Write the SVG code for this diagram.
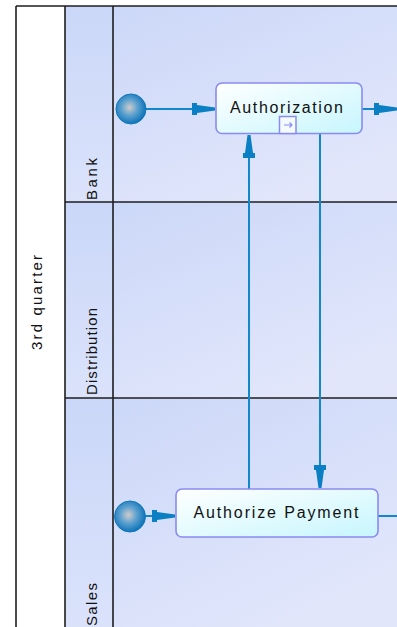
<svg xmlns="http://www.w3.org/2000/svg" width="397" height="627" viewBox="0 0 397 627">
  <defs>
    <linearGradient id="laneBg" x1="0" y1="0" x2="0.6" y2="1">
      <stop offset="0" stop-color="#ccd8f8"/>
      <stop offset="1" stop-color="#e1e6fb"/>
    </linearGradient>
    <linearGradient id="laneLbl" x1="0" y1="0" x2="0" y2="1">
      <stop offset="0" stop-color="#cad7f8"/>
      <stop offset="1" stop-color="#dbe3fb"/>
    </linearGradient>
    <linearGradient id="taskFill" x1="0" y1="0" x2="1" y2="1">
      <stop offset="0" stop-color="#ffffff"/>
      <stop offset="1" stop-color="#c6f6fd"/>
    </linearGradient>
    <radialGradient id="evtFill" cx="0.45" cy="0.45" r="0.55">
      <stop offset="0" stop-color="#d0cccc"/>
      <stop offset="0.5" stop-color="#5aa0cf"/>
      <stop offset="1" stop-color="#0f74b8"/>
    </radialGradient>
    <marker id="arr" markerUnits="userSpaceOnUse" markerWidth="26" markerHeight="14" viewBox="-25 -7 26 14" refX="0" refY="0" orient="auto">
      <path d="M0,-1.5 L-18,-4 L-18,-6 L-23,-6 L-23,6 L-18,6 L-18,4 L0,1.5 Z" fill="#0a7fc3"/>
    </marker>
    <style>
      .frame{fill:none;stroke:#1e1e1e;stroke-width:1.6}
      .conn{fill:none;stroke:#1287cc;stroke-width:2}
      .task{fill:url(#taskFill);stroke:#8a8af2;stroke-width:1.6}
      .lbl{font-family:"Liberation Sans",Arial,sans-serif;font-size:15px;fill:#111}
      .tlbl{font-family:"Liberation Sans",Arial,sans-serif;font-size:16px;fill:#111;text-anchor:middle}
    </style>
  </defs>

  <g id="pool">
    <rect x="16" y="6" width="49" height="625" fill="#ffffff"/>
    <text class="lbl" transform="translate(42,350) rotate(-90)" textLength="95" lengthAdjust="spacing">3rd quarter</text>
  </g>

  <g id="lane-bank">
    <rect x="65" y="6" width="48" height="196" fill="url(#laneLbl)"/>
    <rect x="113" y="6" width="284" height="196" fill="url(#laneBg)"/>
    <text class="lbl" transform="translate(97,200) rotate(-90)" textLength="42" lengthAdjust="spacing">Bank</text>
  </g>
  <g id="lane-distribution">
    <rect x="65" y="202" width="48" height="196" fill="url(#laneLbl)"/>
    <rect x="113" y="202" width="284" height="196" fill="url(#laneBg)"/>
    <text class="lbl" transform="translate(97,395) rotate(-90)" textLength="87" lengthAdjust="spacing">Distribution</text>
  </g>
  <g id="lane-sales">
    <rect x="65" y="398" width="48" height="233" fill="url(#laneLbl)"/>
    <rect x="113" y="398" width="284" height="233" fill="url(#laneBg)"/>
    <text class="lbl" transform="translate(97,626) rotate(-90)" textLength="43" lengthAdjust="spacing">Sales</text>
  </g>

  <g id="frame-lines">
    <line class="frame" x1="16" y1="6" x2="397" y2="6"/>
    <line class="frame" x1="16" y1="6" x2="16" y2="627"/>
    <line class="frame" x1="65" y1="6" x2="65" y2="627"/>
    <line class="frame" x1="113" y1="6" x2="113" y2="627"/>
    <line class="frame" x1="65" y1="202" x2="397" y2="202"/>
    <line class="frame" x1="65" y1="398" x2="397" y2="398"/>
  </g>

  <g id="connectors">
    <line class="conn" x1="146" y1="109" x2="215" y2="109" marker-end="url(#arr)"/>
    <line class="conn" x1="362" y1="109" x2="397" y2="109" marker-end="url(#arr)"/>
    <line class="conn" x1="145" y1="516" x2="175" y2="516" marker-end="url(#arr)"/>
    <line class="conn" x1="249" y1="489" x2="249" y2="135" marker-end="url(#arr)"/>
    <line class="conn" x1="320" y1="134" x2="320" y2="488" marker-end="url(#arr)"/>
    <line class="conn" x1="378" y1="516" x2="397" y2="516"/>
  </g>

  <g id="start-bank">
    <circle cx="131" cy="109" r="15" fill="url(#evtFill)" stroke="#0f78bd" stroke-width="1"/>
  </g>
  <g id="start-sales">
    <circle cx="130" cy="516.5" r="15.5" fill="url(#evtFill)" stroke="#0f78bd" stroke-width="1"/>
  </g>

  <g id="task-authorization">
    <rect class="task" x="216" y="83" width="146" height="50.5" rx="6"/>
    <text class="tlbl" x="286.5" y="113" textLength="113" lengthAdjust="spacing">Authorization</text>
    <rect x="279.5" y="116.5" width="16.5" height="17" fill="#f4fbff" stroke="#8a8af2" stroke-width="1.5"/>
    <path d="M284,125 H292 M289.5,122.5 L292,125 L289.5,127.5" fill="none" stroke="#8a8af2" stroke-width="1.2"/>
  </g>

  <g id="task-authorize-payment">
    <rect class="task" x="176" y="489" width="202" height="48" rx="6"/>
    <text class="tlbl" x="276" y="518" textLength="165" lengthAdjust="spacing">Authorize Payment</text>
  </g>
</svg>
